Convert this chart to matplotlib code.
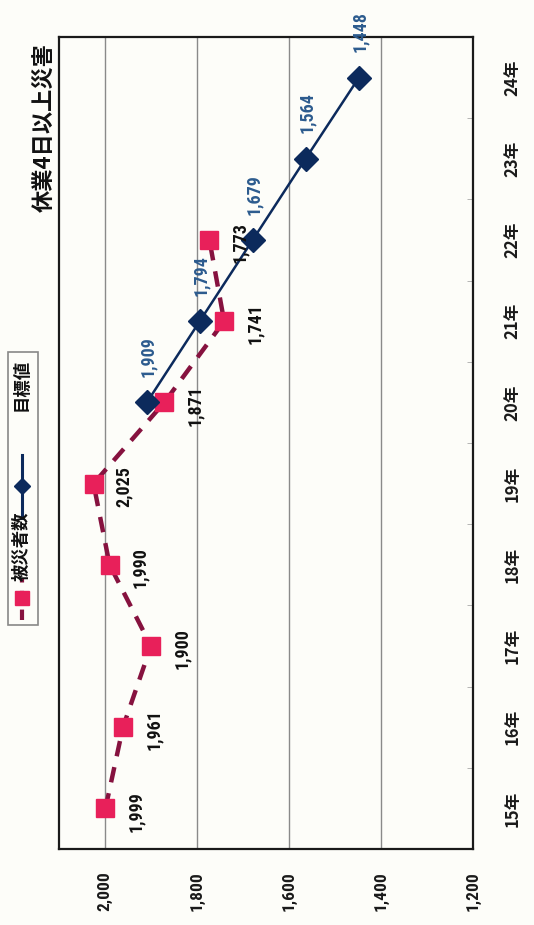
import matplotlib
matplotlib.use("Agg")
import matplotlib.pyplot as plt
from matplotlib.lines import Line2D
from matplotlib import font_manager
import numpy as np

plt.rcParams['font.family'] = ['Noto Sans CJK JP', 'DejaVu Sans']

# ---- data ----
years = ['15年', '16年', '17年', '18年', '19年', '20年', '21年', '22年', '23年', '24年']
victims_idx = [0, 1, 2, 3, 4, 5, 6, 7]
victims = [1999, 1961, 1900, 1990, 2025, 1871, 1741, 1773]
target_idx = [5, 6, 7, 8, 9]
target = [1909, 1794, 1679, 1564, 1448]
value_ticks = [1200, 1400, 1600, 1800, 2000]
value_tick_labels = ['1,200', '1,400', '1,600', '1,800', '2,000']
title = '休業4日以上災害'
legend_labels = ['被災者数', '目標値']

bg = '#fdfdf9'
pink = '#e8205a'
maroon = '#86123f'
navy = '#0c2a5c'
blue_lbl = '#2c5b8e'

# condensed font for numbers if available
names = {f.name for f in font_manager.fontManager.ttflist}
cond = [n for n in ['Liberation Sans Narrow', 'DejaVu Sans Condensed', 'Roboto Condensed',
                    'Open Sans Condensed'] if n in names]
num_kw = dict(family=cond[:1] + ['Noto Sans CJK JP']) if cond else dict(family=['DejaVu Sans'], fontstretch='condensed')

fig = plt.figure(figsize=(5.34, 9.25), dpi=100, facecolor=bg)
ax = fig.add_axes([59/534, 76/925, (473-59)/534, (888-76)/925])
ax.set_facecolor(bg)

ax.set_xlim(2100, 1200)
ax.set_ylim(-0.5, 9.5)

# grid
for v in value_ticks[1:]:
    ax.axvline(v, color='#8a8a8a', lw=1.0, zorder=1)

# series (rotated chart: values on x, categories on y)
ax.plot(victims, victims_idx, linestyle=(0, (3.5, 2.5)), color=maroon, lw=3.2,
        marker='s', markersize=13, markerfacecolor=pink, markeredgecolor=pink,
        zorder=3)
ax.plot(target, target_idx, linestyle='-', color=navy, lw=1.8,
        marker='D', markersize=12, markerfacecolor=navy, markeredgecolor=navy,
        zorder=4)

# data labels
for v, i in zip(victims, victims_idx):
    ax.annotate(f'{v:,}', (v, i), xytext=(22, -2), textcoords='offset points',
                rotation=90, ha='center', va='center', fontsize=13,
                fontweight='bold', color='#111111', zorder=5, **num_kw)
for v, i in zip(target, target_idx):
    ax.annotate(f'{v:,}', (v, i), xytext=(1, 33), textcoords='offset points',
                rotation=90, ha='center', va='center', fontsize=13,
                fontweight='bold', color=blue_lbl, zorder=5, **num_kw)

# axes styling
for s in ax.spines.values():
    s.set_color('#1a1a1a')
    s.set_linewidth(1.6)

ax.set_xticks(value_ticks)
ax.set_xticklabels(value_tick_labels, rotation=90, fontsize=12.5, fontweight='bold',
                   color='#1a1a1a', **num_kw)
ax.tick_params(axis='x', length=0, pad=16)

ax.yaxis.tick_right()
ax.set_yticks(range(len(years)))
ax.set_yticklabels(years, rotation=90, fontsize=12, va='center',
                   fontweight='bold', color='#1a1a1a',
                   family=['Noto Sans CJK JP', 'DejaVu Sans'])
ax.tick_params(axis='y', length=0, pad=22)
ax.set_yticks(np.arange(-0.5, 9.6, 1.0), minor=True)
ax.tick_params(axis='y', which='minor', length=4, direction='in', color='#aaaaaa',
               right=True, left=False)

# title
fig.text(45/534, 1 - 128/925, title, rotation=90, ha='center', va='center',
         fontsize=16, fontweight='bold', color='#111111')

# legend (drawn rotated, in figure pixel coords)
def fx(x):
    return x / 534
def fy(y):
    return 1 - y / 925

box = plt.Rectangle((fx(8), fy(625)), fx(38) - fx(8), fy(352) - fy(625),
                    transform=fig.transFigure, facecolor='none',
                    edgecolor='#888888', lw=1.2)
fig.add_artist(box)
fig.add_artist(Line2D([fx(22), fx(22)], [fy(620), fy(578)], transform=fig.transFigure,
                      color=maroon, lw=3, linestyle=(0, (2.5, 2))))
fig.add_artist(Line2D([fx(22)], [fy(598)], transform=fig.transFigure,
                      marker='s', markersize=10, color=pink, linestyle='none'))
fig.text(fx(22), fy(546), legend_labels[0], rotation=90, ha='center', va='center',
         fontsize=12.5, fontweight='bold', color='#111111')
fig.add_artist(Line2D([fx(22), fx(22)], [fy(518), fy(455)], transform=fig.transFigure,
                      color=navy, lw=2.2))
fig.add_artist(Line2D([fx(22)], [fy(486)], transform=fig.transFigure,
                      marker='D', markersize=8, color=navy, linestyle='none'))
fig.text(fx(22), fy(385), legend_labels[1], rotation=90, ha='center', va='center',
         fontsize=12.5, fontweight='bold', color='#111111')

fig.savefig('out.png', dpi=100, facecolor=bg)
